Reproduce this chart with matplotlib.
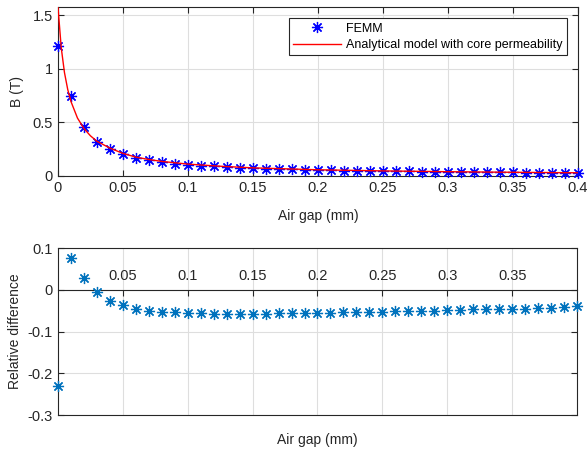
import numpy as np
import matplotlib
matplotlib.use("Agg")
import matplotlib.pyplot as plt

# air gap (mm) for the FEMM points
gap = np.round(np.arange(0, 0.401, 0.01), 2)

# FEMM flux density (T)
b_femm = [1.215, 0.748, 0.456, 0.322, 0.253, 0.203, 0.168, 0.146, 0.129, 0.115,
          0.105, 0.096, 0.089, 0.082, 0.077, 0.072, 0.068, 0.064, 0.061, 0.058,
          0.055, 0.053, 0.050, 0.048, 0.046, 0.045, 0.043, 0.042, 0.040, 0.039,
          0.038, 0.037, 0.035, 0.034, 0.034, 0.033, 0.032, 0.031, 0.030, 0.030,
          0.029]

# analytical model curve
gap_model = [0, 0.0025, 0.005, 0.0075, 0.01, 0.015, 0.02, 0.025, 0.03, 0.04,
             0.05, 0.06, 0.07, 0.08, 0.1, 0.125, 0.15, 0.2, 0.25, 0.3, 0.35, 0.4]
b_model = [1.578, 1.198, 0.965, 0.808, 0.695, 0.541, 0.443, 0.375, 0.324, 0.260,
           0.211, 0.176, 0.154, 0.136, 0.111, 0.091, 0.076, 0.058, 0.0475, 0.040,
           0.0346, 0.030]

# relative difference between FEMM and model
rel_diff = [-0.230, 0.076, 0.029, -0.005, -0.026, -0.037, -0.045, -0.051, -0.054, -0.054,
            -0.056, -0.056, -0.057, -0.057, -0.057, -0.057, -0.057, -0.056, -0.056, -0.055,
            -0.055, -0.055, -0.054, -0.054, -0.053, -0.053, -0.051, -0.051, -0.050, -0.050,
            -0.048, -0.048, -0.047, -0.046, -0.046, -0.045, -0.045, -0.044, -0.043, -0.041,
            -0.040]

plt.rcParams["font.family"] = ["Liberation Sans", "DejaVu Sans"]
plt.rcParams["font.size"] = 10
ax_col = "#262626"
grid_col = "#dedede"
star = (8, 2, 0)

fig = plt.figure(figsize=(5.88, 4.57), dpi=100)
ax1 = fig.add_axes([0.0986, 0.6149, 0.884, 0.3698])
ax2 = fig.add_axes([0.0986, 0.0919, 0.8827, 0.3654])

# top: flux density
ax1.plot(gap, b_femm, linestyle="none", marker=star, markersize=8, color="blue",
         markeredgewidth=0.9, label="FEMM", clip_on=False, zorder=3)
ax1.plot(gap_model, b_model, color="red", lw=1.0,
         label="Analytical model with core permeability", zorder=4)
ax1.set_xlim(0, 0.4)
ax1.set_ylim(0, 1.578)
ax1.set_xticks([0, 0.05, 0.1, 0.15, 0.2, 0.25, 0.3, 0.35, 0.4])
ax1.set_xticklabels(["0", "0.05", "0.1", "0.15", "0.2", "0.25", "0.3", "0.35", "0.4"])
ax1.set_yticks([0, 0.5, 1, 1.5])
ax1.set_yticklabels(["0", "0.5", "1", "1.5"])
ax1.set_xlabel("Air gap (mm)", color=ax_col, labelpad=10)
ax1.set_ylabel("B (T)", color=ax_col, labelpad=6)
ax1.grid(True, color=grid_col, lw=0.8)
ax1.tick_params(direction="in", top=True, right=True, length=4, colors=ax_col, labelsize=10.5)
for s in ax1.spines.values():
    s.set_color(ax_col)
    s.set_linewidth(0.8)
leg = ax1.legend(loc="upper right", fancybox=False, framealpha=1, edgecolor=ax_col,
                 fontsize=9, handlelength=3.8, borderaxespad=0.9,
                 borderpad=0.35, labelspacing=0.35, handletextpad=0.4)
leg.get_frame().set_linewidth(0.8)

# bottom: relative difference, x axis through the origin
ax2.plot(gap, rel_diff, linestyle="none", marker=star, markersize=8,
         color="#0072BD", markeredgewidth=0.9, clip_on=False, zorder=3)
ax2.set_xlim(0, 0.4)
ax2.set_ylim(-0.3, 0.1)
ax2.set_xticks([0.05, 0.1, 0.15, 0.2, 0.25, 0.3, 0.35])
ax2.set_xticklabels(["0.05", "0.1", "0.15", "0.2", "0.25", "0.3", "0.35"])
ax2.set_yticks([-0.3, -0.2, -0.1, 0, 0.1])
ax2.set_yticklabels(["-0.3", "-0.2", "-0.1", "0", "0.1"])
ax2.spines["top"].set_position(("data", 0))
ax2.tick_params(axis="x", bottom=False, labelbottom=False, top=True, labeltop=True,
                direction="in", length=4, colors=ax_col, labelsize=10.5, pad=5)
ax2.tick_params(axis="y", direction="in", right=True, length=4, colors=ax_col, labelsize=10.5)
ax2.grid(True, color=grid_col, lw=0.8)
ax2.plot([0, 1], [1, 1], transform=ax2.transAxes, color=ax_col, lw=0.8, clip_on=False)
for s in ax2.spines.values():
    s.set_color(ax_col)
    s.set_linewidth(0.8)
ax2.set_xlabel("Air gap (mm)", color=ax_col, labelpad=13)
ax2.set_ylabel("Relative difference", color=ax_col, labelpad=4)

fig.savefig("out.png", dpi=100)
